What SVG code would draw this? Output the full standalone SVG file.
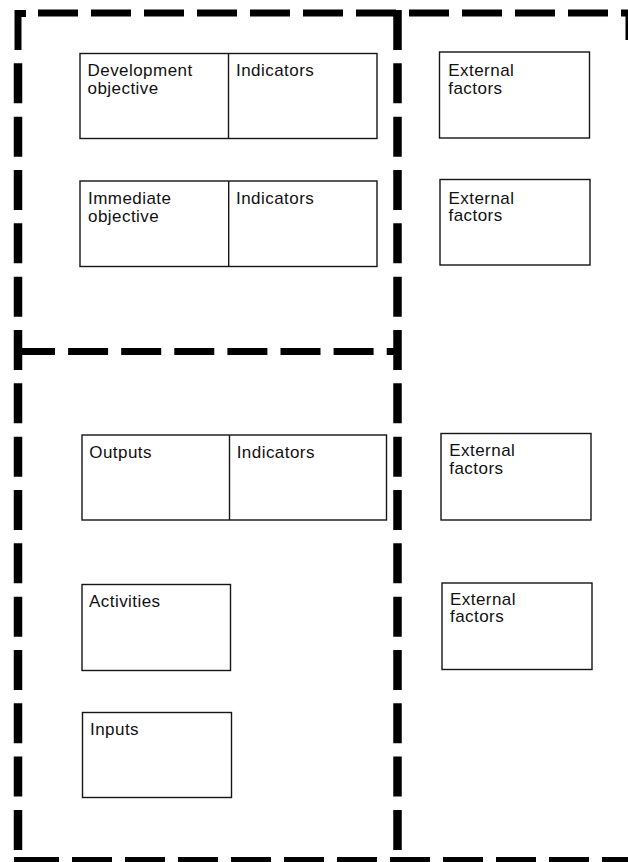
<svg xmlns="http://www.w3.org/2000/svg" width="628" height="862" viewBox="0 0 628 862">
  <style>
    .box { fill: #fff; stroke: #151515; stroke-width: 1.4; }
    .div { stroke: #151515; stroke-width: 1.4; }
    .lbl { font-family: "Liberation Sans", Arial, sans-serif; font-size: 17px; letter-spacing: 0.45px; fill: #111; }
    .dash-h { stroke: #000; stroke-width: 7; fill: none; stroke-dasharray: 40 13; }
    .dash-v { stroke: #000; stroke-width: 8.5; fill: none; stroke-dasharray: 40 13.33; }
    .solid { stroke: #000; stroke-width: 7; fill: none; }
  </style>
  <rect width="628" height="862" fill="#fff"/>

  <!-- dashed frame dividing the matrix into sections -->
  <g id="frame">
    <path class="solid" d="M18 50 V13.5 H26" stroke-width="8"/>
    <line class="dash-v" x1="18" y1="63.33" x2="18" y2="850"/>
    <line class="dash-h" x1="38" y1="13" x2="628" y2="13"/>
    <line class="dash-v" x1="397.5" y1="10" x2="397.5" y2="850"/>
    <!-- right edge, cut off by the page border -->
    <line class="solid" x1="629" y1="10" x2="629" y2="40" stroke-width="5"/>
    <line class="dash-h" x1="15" y1="351.5" x2="397" y2="351.5" style="stroke-dasharray: 40 13.1"/>
    <line class="solid" x1="14" y1="860.5" x2="59" y2="860.5"/>
    <line class="dash-h" x1="72" y1="860.5" x2="628" y2="860.5"/>
  </g>

  <g id="development-objective">
    <rect class="box" x="80" y="53.5" width="297" height="85"/>
    <line class="div" x1="228.5" y1="53.5" x2="228.5" y2="138.5"/>
    <text class="lbl" x="87.5" y="76">Development</text>
    <text class="lbl" x="87.5" y="94">objective</text>
    <text class="lbl" x="236" y="76">Indicators</text>
  </g>

  <g id="immediate-objective">
    <rect class="box" x="80" y="181" width="297" height="85.5"/>
    <line class="div" x1="228.7" y1="181" x2="228.7" y2="266.5"/>
    <text class="lbl" x="88" y="204">Immediate</text>
    <text class="lbl" x="88" y="222">objective</text>
    <text class="lbl" x="236" y="204">Indicators</text>
  </g>

  <g id="outputs">
    <rect class="box" x="82" y="435" width="304.5" height="85"/>
    <line class="div" x1="229.5" y1="435" x2="229.5" y2="520"/>
    <text class="lbl" x="89.3" y="457.5">Outputs</text>
    <text class="lbl" x="236.7" y="457.5">Indicators</text>
  </g>

  <g id="activities">
    <rect class="box" x="82" y="584.5" width="148.5" height="86"/>
    <text class="lbl" x="89" y="607">Activities</text>
  </g>

  <g id="inputs">
    <rect class="box" x="82.5" y="712.5" width="149" height="85"/>
    <text class="lbl" x="90" y="734.5">Inputs</text>
  </g>

  <g id="external-factors-1">
    <rect class="box" x="439.5" y="52" width="150" height="86"/>
    <text class="lbl" x="448.3" y="76">External</text>
    <text class="lbl" x="448.3" y="93.5">factors</text>
  </g>

  <g id="external-factors-2">
    <rect class="box" x="440" y="179.5" width="150" height="85.5"/>
    <text class="lbl" x="448.5" y="203.5">External</text>
    <text class="lbl" x="448.5" y="221">factors</text>
  </g>

  <g id="external-factors-3">
    <rect class="box" x="441" y="433.5" width="150" height="86.5"/>
    <text class="lbl" x="449.3" y="455.5">External</text>
    <text class="lbl" x="449.3" y="473.5">factors</text>
  </g>

  <g id="external-factors-4">
    <rect class="box" x="442" y="583" width="150" height="86.5"/>
    <text class="lbl" x="450" y="604.5">External</text>
    <text class="lbl" x="450" y="622">factors</text>
  </g>
</svg>
